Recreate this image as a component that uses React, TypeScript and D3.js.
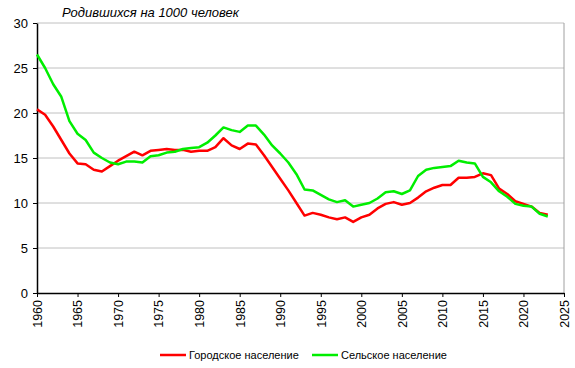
import * as d3 from 'd3';
import React, { useEffect, useRef } from 'react';

const years = d3.range(1960, 2024);

const urban = [
  20.4, 19.8, 18.5, 17.0, 15.5, 14.4, 14.3, 13.7, 13.5, 14.1,
  14.7, 15.2, 15.7, 15.3, 15.8, 15.9, 16.0, 15.9, 15.9, 15.7,
  15.8, 15.8, 16.2, 17.2, 16.4, 16.0, 16.6, 16.5, 15.3, 14.0,
  12.7, 11.4, 10.0, 8.6, 8.9, 8.7, 8.4, 8.2, 8.4, 7.9,
  8.4, 8.7, 9.4, 9.9, 10.1, 9.8, 10.0, 10.6, 11.3, 11.7,
  12.0, 12.0, 12.8, 12.8, 12.9, 13.3, 13.1, 11.6, 11.0, 10.2,
  9.9, 9.6, 8.9, 8.7,
];

const rural = [
  26.5, 25.0, 23.2, 21.8, 19.1, 17.7, 17.0, 15.6, 15.0, 14.5,
  14.3, 14.6, 14.6, 14.5, 15.2, 15.3, 15.6, 15.7, 16.0, 16.1,
  16.2, 16.7, 17.5, 18.4, 18.1, 17.9, 18.6, 18.6, 17.6, 16.4,
  15.5, 14.5, 13.2, 11.5, 11.4, 10.9, 10.4, 10.1, 10.3, 9.6,
  9.8, 10.0, 10.5, 11.2, 11.3, 11.0, 11.4, 13.0, 13.7, 13.9,
  14.0, 14.1, 14.7, 14.5, 14.4, 12.9, 12.3, 11.3, 10.7, 9.9,
  9.7, 9.6, 8.8, 8.5,
];

const yTicks = [0, 5, 10, 15, 20, 25, 30];
const xTicks = d3.range(1960, 2030, 5);

const seriesNames = ['Городское население', 'Сельское население'];
const seriesColors = ['#ff0000', '#00ee00'];
const title = 'Родившихся на 1000 человек';

const App = () => {
  const svgRef = useRef(null);

  useEffect(() => {
    const svg = d3.select(svgRef.current);
    svg.selectAll('*').remove();
    const left = 37, right = 564, top = 23, bottom = 293;
    const font = 'Arial, "Liberation Sans", sans-serif';

    const x = d3.scaleLinear().domain([1960, 2025]).range([left, right]);
    const y = d3.scaleLinear().domain([0, 30]).range([bottom, top]);

    // grid
    svg.append('g')
      .selectAll('line')
      .data(yTicks.filter(d => d > 0))
      .enter()
      .append('line')
      .attr('x1', left).attr('x2', right)
      .attr('y1', d => y(d)).attr('y2', d => y(d))
      .attr('stroke', '#c0c0c0')
      .attr('stroke-width', 1);

    svg.append('line')
      .attr('x1', right).attr('x2', right)
      .attr('y1', top).attr('y2', bottom)
      .attr('stroke', '#a0a0a0');

    // y axis
    const ya = svg.append('g')
      .attr('transform', `translate(${left},0)`)
      .call(d3.axisLeft(y).tickValues(yTicks).tickSize(4).tickSizeOuter(0));
    ya.select('.domain').attr('stroke', '#000').attr('stroke-width', 1.5);
    ya.selectAll('text')
      .attr('font-family', font)
      .attr('font-size', 13)
      .attr('fill', '#000')
      .attr('x', -9);

    // x axis
    const xa = svg.append('g')
      .attr('transform', `translate(0,${bottom})`)
      .call(d3.axisBottom(x).tickValues(xTicks).tickFormat(d3.format('d')).tickSize(4).tickSizeOuter(0));
    xa.select('.domain').attr('stroke', '#000').attr('stroke-width', 1.5);
    xa.selectAll('text')
      .attr('font-family', font)
      .attr('font-size', 12.5)
      .attr('fill', '#000')
      .attr('transform', 'rotate(-90)')
      .attr('text-anchor', 'end')
      .attr('x', -7)
      .attr('y', 0)
      .attr('dy', '0.35em');

    const line = d3.line()
      .x((d, i) => x(years[i]))
      .y(d => y(d));

    [urban, rural].forEach((s, k) => {
      svg.append('path')
        .datum(s)
        .attr('d', line)
        .attr('fill', 'none')
        .attr('stroke', seriesColors[k])
        .attr('stroke-width', 2.5)
        .attr('stroke-linejoin', 'round');
    });

    svg.append('text')
      .attr('x', 62)
      .attr('y', 17)
      .attr('font-family', font)
      .attr('font-size', 13)
      .attr('font-style', 'italic')
      .text(title);

    // legend
    const legendX = [160, 312];
    seriesNames.forEach((name, k) => {
      svg.append('line')
        .attr('x1', legendX[k]).attr('x2', legendX[k] + 26)
        .attr('y1', 355).attr('y2', 355)
        .attr('stroke', seriesColors[k])
        .attr('stroke-width', 2.5);
      svg.append('text')
        .attr('x', legendX[k] + 29)
        .attr('y', 359)
        .attr('font-family', font)
        .attr('font-size', 11)
        .text(name);
    });
  }, []);

  return (
    <svg ref={svgRef} width={575} height={368}
      style={{ position: 'absolute', left: 0, top: 0, background: '#fff' }} />
  );
};

export default App;
